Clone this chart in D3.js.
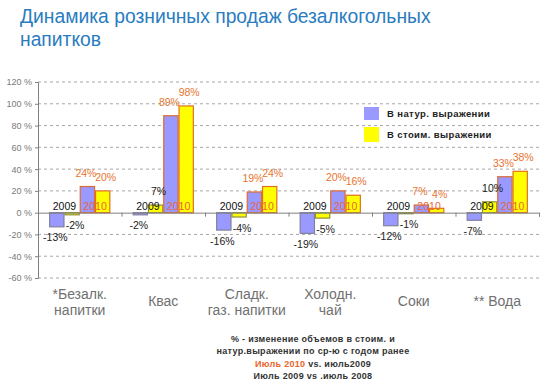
<!DOCTYPE html>
<html><head><meta charset="utf-8">
<script src="https://cdn.jsdelivr.net/npm/d3@7"></script>
<style>body{margin:0;background:#fff}svg{display:block;font-family:"Liberation Sans",Arial,sans-serif}</style>
</head><body>
<svg id="c" width="549" height="386"></svg>
<script>
const categories = [["*Безалк.","напитки"],["Квас"],["Сладк.","газ. напитки"],["Холодн.","чай"],["Соки"],["** Вода"]];
const natural2009 = [-13, -2, -16, -19, -12, -7];
const value2009   = [-2, 7, -4, -5, -1, 10];
const natural2010 = [24, 89, 19, 20, 7, 33];
const value2010   = [20, 98, 24, 16, 4, 38];
const yTicks = [-60,-40,-20,0,20,40,60,80,100,120];
const seriesKeys = ["n09","v09","n10","v10"];
const legendLabels = ["В натур. выражении","В  стоим. выражении"];
const titleLines = ["Динамика розничных продаж безалкогольных","напитков"];

const svg = d3.select("#c");
const y = d3.scaleLinear().domain([-60,120]).range([278,82]);
const catIdx = categories.map((d,i)=>i);
const x = d3.scaleBand().domain(catIdx).range([38,539]).padding(0);
const xs = d3.scaleBand().domain(seriesKeys).range([0,x.bandwidth()]).paddingInner(0).paddingOuter(0.73);

// title
svg.append("g").selectAll("text").data(titleLines).join("text")
  .attr("x",20).attr("y",(d,i)=>23+i*23).attr("fill","#2a7cc0").attr("font-size",19.3).text(d=>d);

// gridlines
svg.append("g").selectAll("line").data(yTicks.filter(t=>t!==0)).join("line")
  .attr("x1",38).attr("x2",540).attr("y1",d=>y(d)).attr("y2",d=>y(d))
  .attr("stroke","#a8a8a8").attr("stroke-dasharray","3,3").attr("stroke-width",1);

// y axis
const yAxis = svg.append("g").attr("transform","translate(38,0)")
  .call(d3.axisLeft(y).tickValues(yTicks).tickSize(3).tickFormat(d=>d+" %"));
yAxis.select(".domain").attr("stroke","#808080");
yAxis.selectAll(".tick line").attr("stroke","#808080");
yAxis.selectAll("text").attr("fill","#7a7a7a").attr("font-size",9).attr("font-family","Liberation Sans, Arial").attr("x",-6);

// bars
const rows = categories.map((c,i)=>({i, vals:{n09:natural2009[i],v09:value2009[i],n10:natural2010[i],v10:value2010[i]}}));
const fill = {n09:"#9999ff",v09:"#ffff00",n10:"#9999ff",v10:"#ffff00"};
const stroke = {n09:"#8080a0",v09:"#909040",n10:"#e06a30",v10:"#e07020"};
const bars = [];
rows.forEach(r=>seriesKeys.forEach(k=>bars.push({i:r.i,k,v:r.vals[k]})));
svg.append("g").selectAll("rect").data(bars).join("rect")
  .attr("x",d=>x(d.i)+xs(d.k)+0.5).attr("width",xs.bandwidth()-1)
  .attr("y",d=>y(Math.max(0,d.v))).attr("height",d=>Math.abs(y(d.v)-y(0)))
  .attr("fill",d=>fill[d.k]).attr("stroke",d=>stroke[d.k]).attr("stroke-width",1.2);

// x axis at zero
const xAxis = svg.append("g").attr("transform",`translate(0,${y(0)})`)
  .call(d3.axisBottom(d3.scaleLinear().domain([0,6]).range([38,539])).ticks(6).tickSize(4).tickFormat(""));
xAxis.select(".domain").attr("stroke","#808080");
xAxis.selectAll(".tick line").attr("stroke","#808080");

// year labels
const yearLab = [];
catIdx.forEach(i=>{
  yearLab.push({i,t:"2009",x:x(i)+xs("v09"),c:"#111"});
  yearLab.push({i,t:"2010",x:x(i)+xs("v10"),c:"#e8643a"});
});
svg.append("g").selectAll("text").data(yearLab).join("text")
  .attr("x",d=>d.x).attr("y",y(0)-3).attr("text-anchor","middle").attr("font-size",10.5)
  .attr("fill",d=>d.c).text(d=>d.t);

// value labels
const dx = {n09:-1.5,v09:3,n10:-1.5,v10:3};
svg.append("g").selectAll("text").data(bars).join("text")
  .attr("x",d=>x(d.i)+xs(d.k)+xs.bandwidth()/2+dx[d.k])
  .attr("y",d=>d.v<0? y(d.v)+14.5 : y(d.v)-10)
  .attr("text-anchor","middle").attr("font-size",10.5)
  .attr("fill",d=>d.k.endsWith("10")?"#e8742e":"#222")
  .text(d=>d.v+"%");

// category labels
const cl = svg.append("g").selectAll("text").data(categories.map((c,i)=>({c,i}))).join("text")
  .attr("text-anchor","middle").attr("fill","#707070").attr("font-size",14)
  .attr("transform",d=>`translate(${x(d.i)+x.bandwidth()/2},${d.c.length===1?306:299})`);
cl.selectAll("tspan").data(d=>d.c).join("tspan").attr("x",0).attr("dy",(d,j)=>j?16:0).text(d=>d);

// legend
const leg = svg.append("g").selectAll("g").data(legendLabels).join("g")
  .attr("transform",(d,i)=>`translate(364,${107+i*20})`);
leg.append("rect").attr("width",15).attr("height",(d,i)=>i?15:13).attr("fill",(d,i)=>i?"#ffff00":"#9999ff");
leg.append("text").attr("x",23).attr("y",(d,i)=>i?11:10).attr("font-size",9.5).attr("font-weight","bold")
  .attr("letter-spacing",0.4).attr("fill","#222").text(d=>d);

// footnote
const notes = [
  [{t:"% - изменение объемов в стоим. и",c:"#333"}],
  [{t:"натур.выражении по ср-ю с годом ранее",c:"#333"}],
  [{t:"Июль 2010",c:"#e8642e"},{t:" vs. июль2009",c:"#333"}],
  [{t:"Июль 2009 vs .июль 2008",c:"#333"}]
];
const nt = svg.append("g").selectAll("text").data(notes).join("text")
  .attr("x",313).attr("y",(d,i)=>342+i*12.3).attr("text-anchor","middle")
  .attr("font-size",9).attr("font-weight","bold").attr("letter-spacing",0.3);
nt.selectAll("tspan").data(d=>d).join("tspan").attr("fill",d=>d.c).text(d=>d.t);
</script>
</body></html>
